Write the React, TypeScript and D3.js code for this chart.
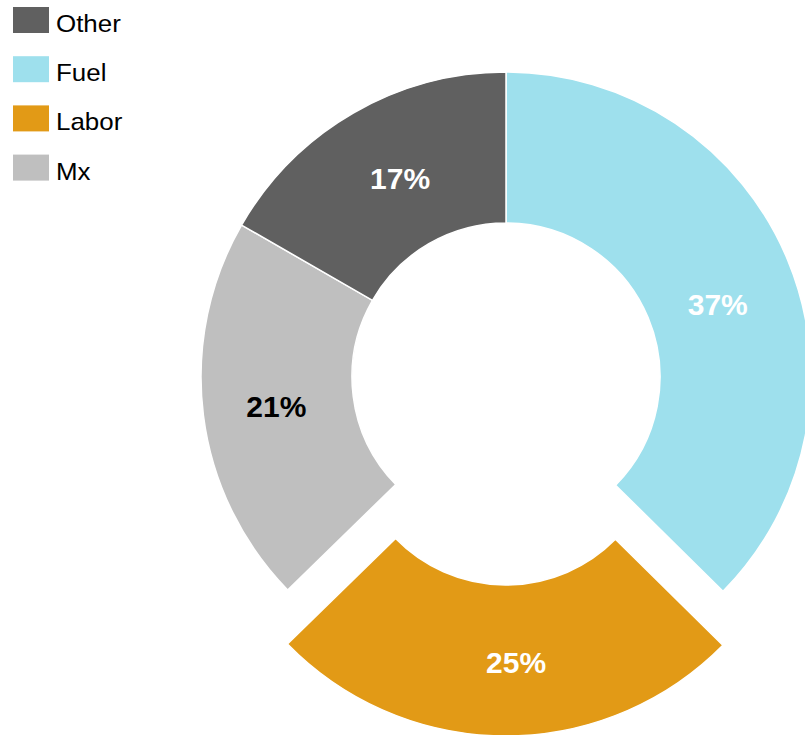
import React from "react";
import * as d3 from "d3";

const categories = ["Fuel", "Labor", "Mx", "Other"];
const values = [37.4, 25.3, 20.6, 16.7];
const legendOrder = ["Other", "Fuel", "Labor", "Mx"];
const explodedCategory = "Labor";

const colors: Record<string, string> = {
  Fuel: "#9EE0ED",
  Labor: "#E29A16",
  Mx: "#BFBFBF",
  Other: "#606060",
};
const labelColors: Record<string, string> = {
  Fuel: "#FFFFFF",
  Labor: "#FFFFFF",
  Mx: "#000000",
  Other: "#FFFFFF",
};
// small label placement adjustments relative to arc centroid (layout only)
const labelNudge: Record<string, [number, number]> = {
  Fuel: [0, 16],
  Labor: [11, 2],
  Mx: [-2, 0],
  Other: [9, 0],
};

const W = 805;
const H = 735;
const cx = 506;
const cy = 377;
const outerR = 305;
const innerR = 154;
const explodeDist = 54;
const FONT = "'Liberation Sans', Arial, Helvetica, sans-serif";

export default function App() {
  const data = categories.map((c, i) => ({ cat: c, value: values[i] }));
  const total = d3.sum(values);
  const pie = d3
    .pie<{ cat: string; value: number }>()
    .value((d) => d.value)
    .sort(null)
    .startAngle(0)
    .endAngle(2 * Math.PI);
  const arcs = pie(data);
  const arcGen = d3
    .arc<d3.PieArcDatum<{ cat: string; value: number }>>()
    .innerRadius(innerR)
    .outerRadius(outerR);

  return (
    <svg
      width={W}
      height={H}
      style={{ position: "absolute", left: 0, top: 0, background: "#fff" }}
    >
      <g transform={`translate(${cx},${cy})`}>
        {arcs.map((a) => {
          const mid = (a.startAngle + a.endAngle) / 2;
          const off = a.data.cat === explodedCategory ? explodeDist : 0;
          const dx = Math.sin(mid) * off;
          const dy = -Math.cos(mid) * off;
          return (
            <path
              key={a.data.cat}
              d={arcGen(a) || ""}
              transform={`translate(${dx},${dy})`}
              fill={colors[a.data.cat]}
              stroke="#FFFFFF"
              strokeWidth={1.5}
            />
          );
        })}
        {arcs.map((a) => {
          const mid = (a.startAngle + a.endAngle) / 2;
          const off = a.data.cat === explodedCategory ? explodeDist : 0;
          const [x, y] = arcGen.centroid(a);
          const dx = Math.sin(mid) * off;
          const dy = -Math.cos(mid) * off;
          const [nx, ny] = labelNudge[a.data.cat] || [0, 0];
          return (
            <text
              key={"l" + a.data.cat}
              x={x + dx + nx}
              y={y + dy + ny}
              dy="0.36em"
              textAnchor="middle"
              fontFamily={FONT}
              fontWeight="bold"
              fontSize={30}
              fill={labelColors[a.data.cat]}
            >
              {`${Math.round((a.data.value / total) * 100)}%`}
            </text>
          );
        })}
      </g>
      <g>
        {legendOrder.map((c, i) => (
          <g key={"lg" + c} transform={`translate(13,${7 + i * 49.2})`}>
            <rect width={36} height={26} fill={colors[c]} />
            <text
              transform="translate(43,25) scale(1.08,1)"
              fontFamily={FONT}
              fontSize={24}
              fill="#000"
            >
              {c}
            </text>
          </g>
        ))}
      </g>
    </svg>
  );
}
